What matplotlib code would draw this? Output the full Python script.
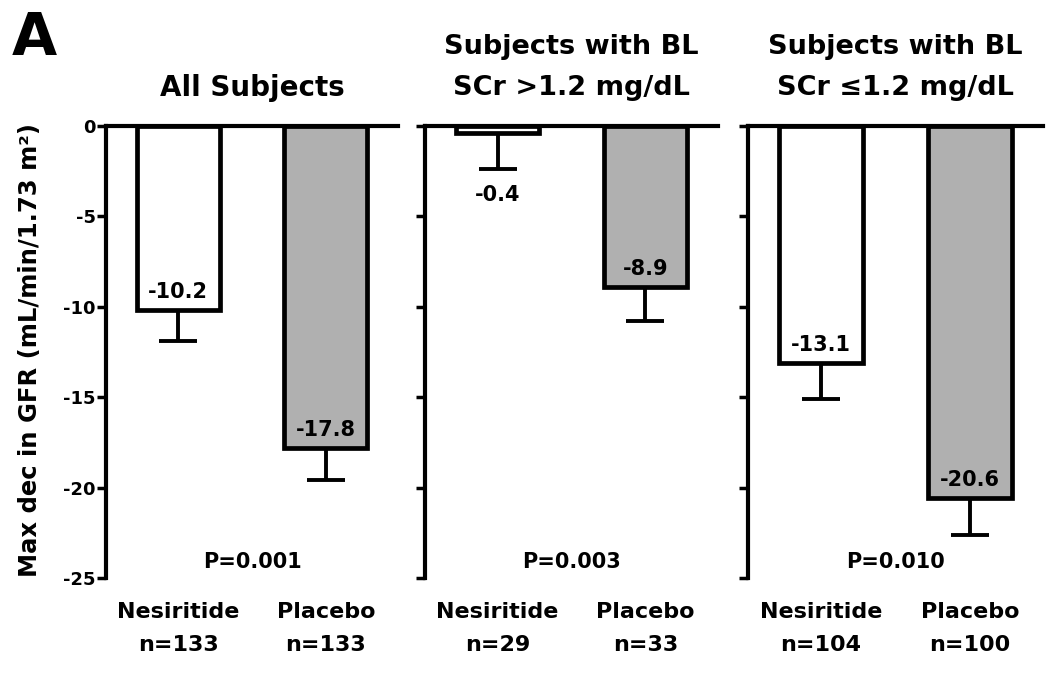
import matplotlib.pyplot as plt
import numpy as np

plt.rcParams['font.family'] = ['DejaVu Sans']
plt.rcParams['font.weight'] = 'bold'

titles = [['All Subjects'],
          ['Subjects with BL', 'SCr >1.2 mg/dL'],
          ['Subjects with BL', 'SCr \u22641.2 mg/dL']]
nes_vals = [-10.2, -0.4, -13.1]
pla_vals = [-17.8, -8.9, -20.6]
nes_err = [1.7, 2.0, 2.0]
pla_err = [1.8, 1.9, 2.0]
nes_n = [133, 29, 104]
pla_n = [133, 33, 100]
p_vals = ['P=0.001', 'P=0.003', 'P=0.010']
yticks = [0, -5, -10, -15, -20, -25]

fig = plt.figure(figsize=(10.5, 6.75), dpi=100)
lefts = [0.1010, 0.4048, 0.7124]
widths = [0.2781, 0.2790, 0.2810]
bottom, height = 0.1437, 0.6696

for i in range(3):
    ax = fig.add_axes([lefts[i], bottom, widths[i], height])
    vals = [nes_vals[i], pla_vals[i]]
    errs = [nes_err[i], pla_err[i]]
    x = np.array([0, 1])
    ax.errorbar(x, vals, yerr=[errs, [0, 0]], fmt='none', ecolor='black',
                elinewidth=2.8, capsize=13.7, capthick=2.8, zorder=1)
    ax.bar(x, vals, width=0.56, color=['white', '#b0b0b0'],
           edgecolor='black', linewidth=3.4, zorder=2)

    for xi, v, e in zip(x, vals, errs):
        if v < -3:
            ypos = v + 1.0
        else:
            ypos = v - e - 1.4   # small bar: label goes under the error bar
        ax.text(xi, ypos, f'{v:.1f}', ha='center', va='center',
                fontsize=15, fontweight='bold', zorder=3)

    ax.text(0.5, -24.1, p_vals[i], ha='center', va='center',
            fontsize=15, fontweight='bold')

    tr = ax.get_xaxis_transform()
    ax.text(0, -0.075, 'Nesiritide', transform=tr, ha='center', va='center',
            fontsize=16, fontweight='bold')
    ax.text(1, -0.075, 'Placebo', transform=tr, ha='center', va='center',
            fontsize=16, fontweight='bold')
    ax.text(0, -0.148, f'n={nes_n[i]}', transform=tr, ha='center', va='center',
            fontsize=16, fontweight='bold')
    ax.text(1, -0.148, f'n={pla_n[i]}', transform=tr, ha='center', va='center',
            fontsize=16, fontweight='bold')

    # titles
    if len(titles[i]) == 1:
        ax.text(0.5, 1.084, titles[i][0], transform=ax.transAxes, ha='center',
                va='center', fontsize=20, fontweight='bold')
    else:
        ax.text(0.5, 1.175, titles[i][0], transform=ax.transAxes, ha='center',
                va='center', fontsize=19.5, fontweight='bold')
        ax.text(0.5, 1.084, titles[i][1], transform=ax.transAxes, ha='center',
                va='center', fontsize=19.5, fontweight='bold')

    ax.set_xlim(-0.49, 1.49)
    ax.set_ylim(-25, 0)
    ax.set_yticks(yticks)
    if i == 0:
        ax.set_yticklabels([str(t) for t in yticks], fontsize=13, fontweight='bold')
    else:
        ax.set_yticklabels([])
    ax.set_xticks([])
    ax.spines['right'].set_visible(False)
    ax.spines['bottom'].set_visible(False)
    ax.spines['top'].set_linewidth(3)
    ax.spines['left'].set_linewidth(3)
    ax.tick_params(axis='y', direction='out', length=6.5, width=2.5, pad=1)

fig.text(0.029, 0.482, 'Max dec in GFR (mL/min/1.73 m\u00b2)', rotation=90,
         ha='center', va='center', fontsize=17.5, fontweight='bold')
fig.text(0.0114, 0.9185, 'A', ha='left', va='baseline', fontsize=42,
         fontweight='bold')

fig.savefig('out.png', dpi=100)
